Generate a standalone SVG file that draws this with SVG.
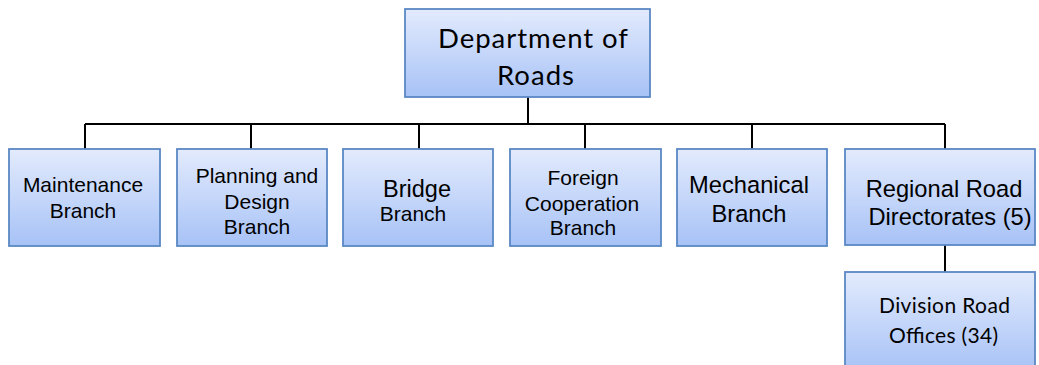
<svg xmlns="http://www.w3.org/2000/svg" width="1039" height="365" viewBox="0 0 1039 365">
<defs>
<linearGradient id="g" x1="0" y1="0" x2="0" y2="1">
<stop offset="0" stop-color="#e3ebfd"/>
<stop offset="1" stop-color="#a7c2f6"/>
</linearGradient>
</defs>
<style>
.box{fill:url(#g);stroke:#5a88c4;stroke-width:1.8}
.t{font-family:"Liberation Sans",Arial,sans-serif;fill:#000;text-anchor:middle}
.c{font-family:Lato,"Open Sans",sans-serif;fill:#000;text-anchor:middle}
.ln{stroke:#000;stroke-width:2;fill:none}
</style>
<rect width="1039" height="365" fill="#fff"/>
<g id="connectors">
<path class="ln" d="M528 97V124M85 124H945M85 124V149M251 124V149M419 124V149M585 124V149M752 124V149M945 124V149M945 245V272"/>
</g>
<g id="dept">
<rect class="box" x="405" y="9" width="245" height="88"/>
<text class="c" font-size="27.5" x="533" y="48" textLength="190" lengthAdjust="spacing">Department of</text>
<text class="c" font-size="27.5" x="535.5" y="85" textLength="77" lengthAdjust="spacing">Roads</text>
</g>
<g id="maintenance">
<rect class="box" x="9" y="149" width="151" height="97"/>
<text class="t" font-size="21" x="83" y="192">Maintenance</text>
<text class="t" font-size="21" x="83" y="218">Branch</text>
</g>
<g id="planning">
<rect class="box" x="177" y="149" width="150" height="97"/>
<text class="t" font-size="21" x="257" y="183">Planning and</text>
<text class="t" font-size="21" x="257" y="209">Design</text>
<text class="t" font-size="21" x="257" y="234">Branch</text>
</g>
<g id="bridge">
<rect class="box" x="343" y="149" width="150" height="97"/>
<text class="t" font-size="23.5" x="417" y="197">Bridge</text>
<text class="t" font-size="21" x="413" y="221">Branch</text>
</g>
<g id="foreign">
<rect class="box" x="510" y="149" width="151" height="97"/>
<text class="t" font-size="21" x="583" y="185">Foreign</text>
<text class="t" font-size="21" x="582" y="211">Cooperation</text>
<text class="t" font-size="21" x="583" y="235">Branch</text>
</g>
<g id="mechanical">
<rect class="box" x="677" y="149" width="150" height="97"/>
<text class="t" font-size="23.7" x="749" y="193">Mechanical</text>
<text class="t" font-size="23.7" x="749" y="222">Branch</text>
</g>
<g id="regional">
<rect class="box" x="845" y="149" width="190" height="96"/>
<text class="t" font-size="23.7" x="944" y="197">Regional Road</text>
<text class="t" font-size="23.7" x="950" y="225">Directorates (5)</text>
</g>
<g id="division">
<rect class="box" x="845" y="272" width="190" height="100"/>
<text class="c" font-size="21" x="944.5" y="313" textLength="131" lengthAdjust="spacing">Division Road</text>
<text class="c" font-size="21" x="943.5" y="343" textLength="109" lengthAdjust="spacing">Offices (34)</text>
</g>
</svg>
